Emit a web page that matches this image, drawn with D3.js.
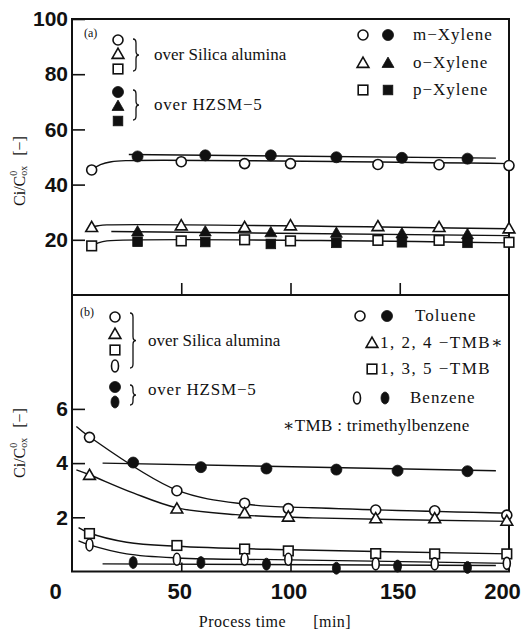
<!DOCTYPE html>
<html>
<head>
<meta charset="utf-8">
<script src="https://cdn.jsdelivr.net/npm/d3@7"></script>
<style>
  body { margin: 0; background: #fff; }
  .serif { font-family: "Liberation Serif", "DejaVu Serif", serif; fill: #111; white-space: pre; }
  .num { font-family: "Liberation Sans", Arial, sans-serif; font-weight: bold; font-size: 21px; fill: #111; }
</style>
</head>
<body>
<div id="chart"></div>
<script>
// (a) xylenes
const timeOpenA = [9, 50, 79, 100, 140, 168, 200];
const timeFilledA = [30, 61, 91, 121, 151, 181];
const mXylSA = [45.3, 48.3, 47.6, 47.6, 47.3, 47.2, 46.9];
const mXylHZ = [50.2, 50.6, 50.6, 49.9, 49.7, 49.4];
const oXylSA = [24.6, 25.2, 24.6, 25.2, 24.9, 24.6, 24.1];
const oXylHZ = [23.0, 23.0, 22.7, 22.5, 22.3, 22.0];
const pXylSA = [17.8, 19.6, 20.0, 19.6, 19.8, 19.8, 19.1];
const pXylHZ = [19.3, 19.2, 18.5, 18.9, 19.1, 18.9];
// hand-drawn fit curves (a)
const mXylSAFit = [[9, 45.3], [13, 47.2], [18, 48.3], [26, 48.7], [200, 47.6]];
const mXylHZFit = [[26, 50.9], [194, 49.6]];
const oXylSAFit = [[9, 24.6], [12, 25.1], [16, 25.4], [200, 24.0]];
const oXylHZFit = [[18, 23.0], [200, 21.5]];
const pXylSAFit = [[9, 17.8], [12, 18.9], [16, 19.6], [200, 18.9]];

// (b) toluene, TMB, benzene
const timeOpenB = [8, 48, 79, 99, 139, 166, 199];
const timeFilledB = [28, 59, 89, 121, 149, 181];
const toluSA = [4.95, 2.98, 2.52, 2.32, 2.27, 2.24, 2.08];
const toluHZ = [4.02, 3.85, 3.8, 3.76, 3.72, 3.70];
const tmb124SA = [3.56, 2.32, 2.15, 2.02, 1.96, 1.96, 1.87];
const tmb135SA = [1.40, 0.96, 0.83, 0.76, 0.66, 0.65, 0.65];
const benzSA = [0.98, 0.45, 0.45, 0.45, 0.28, 0.28, 0.30];
const benzHZ = [0.33, 0.33, 0.27, 0.12, 0.20, 0.15];
const toluSAFit = [[2, 5.35], [8, 4.97], [48, 3.0], [80, 2.48], [110, 2.35], [200, 2.15]];
const toluHZFit = [[14, 4.0], [194, 3.72]];
const tmb124Fit = [[2, 3.75], [8, 3.57], [28, 2.9], [48, 2.35], [75, 2.1], [110, 1.98], [200, 1.85]];
const tmb135Fit = [[3, 1.62], [8, 1.42], [25, 1.08], [48, 0.93], [100, 0.8], [200, 0.65]];
const benzSAFit = [[3, 1.13], [8, 0.98], [25, 0.65], [48, 0.5], [100, 0.43], [200, 0.3]];
const benzHZFit = [[14, 0.28], [194, 0.22]];

const xTicks = [0, 50, 100, 150, 200];
const yTicksA = [20, 40, 60, 80, 100];
const yTicksB = [2, 4, 6];

const width = 522, height = 634;
const left = 72, right = 509, topA = 19, mid = 295, bottom = 571.5;

const svg = d3.select('#chart').append('svg')
  .attr('width', width).attr('height', height);

const x = d3.scaleLinear().domain([0, 200]).range([left, right]);
const yA = d3.scaleLinear().domain([0, 100]).range([mid, topA]);
const yB = d3.scaleLinear().domain([0, (bottom - mid) / 27.1]).range([bottom, mid]);

// frames
svg.append('rect').attr('x', left).attr('y', topA).attr('width', right - left).attr('height', mid - topA)
  .attr('fill', 'none').attr('stroke', '#111').attr('stroke-width', 2);
svg.append('rect').attr('x', left).attr('y', mid).attr('width', right - left).attr('height', bottom - mid)
  .attr('fill', 'none').attr('stroke', '#111').attr('stroke-width', 2);

const clean = g => {
  g.select('.domain').remove();
  g.selectAll('line').attr('stroke', '#111').attr('stroke-width', 1.6);
  g.selectAll('text').attr('class', 'num').attr('fill', null);
};

// y axes
svg.append('g').attr('transform', `translate(${left},0)`)
  .call(d3.axisLeft(yA).tickValues(yTicksA).tickSizeInner(-13).tickSizeOuter(0).tickPadding(4))
  .call(clean);
svg.append('g').attr('transform', `translate(${left},0)`)
  .call(d3.axisLeft(yB).tickValues(yTicksB).tickSizeInner(-13).tickSizeOuter(0).tickPadding(4))
  .call(clean);

// x ticks: top panel bottom edge (up), bottom panel bottom edge (up) + labels
svg.append('g').attr('transform', `translate(0,${mid})`)
  .call(d3.axisBottom(x).tickValues([50, 100, 150]).tickSize(-12).tickFormat(''))
  .call(clean);
svg.append('g').attr('transform', `translate(0,${bottom})`)
  .call(d3.axisBottom(x).tickValues(xTicks).tickSizeInner(-9).tickSizeOuter(0).tickPadding(16))
  .call(clean)
  .call(g => g.selectAll('.tick line').filter(d => d === 0 || d === 200).remove())
  .call(g => g.selectAll('.tick text')
    .style('font-size', '22px')
    .attr('dx', d => d === 0 ? -17 : d === 200 ? -7 : -2)
    .attr('dy', '0.5em'));

// y titles
function yTitle(cx, cy) {
  const t = svg.append('text').attr('class', 'serif')
    .attr('transform', `translate(${cx},${cy}) rotate(-90)`)
    .attr('text-anchor', 'middle').attr('dominant-baseline', 'middle')
    .style('font-size', '16px');
  t.append('tspan').text('Ci/C');
  t.append('tspan').text('0').attr('dy', -6).style('font-size', '10px');
  t.append('tspan').text('ox').attr('dx', -5).attr('dy', 10).style('font-size', '10px');
  t.append('tspan').text('  [−]').attr('dy', -4).attr('dx', 2);
}
yTitle(21, 171);
yTitle(21, 443);

svg.append('text').attr('class', 'serif')
  .attr('x', 275).attr('y', 623).attr('text-anchor', 'middle').attr('dominant-baseline', 'middle')
  .style('font-size', '16px').style('letter-spacing', '0.5px')
  .text('Process time      [min]');

// fit curves
const line = y => d3.line().x(d => x(d[0])).y(d => y(d[1])).curve(d3.curveCatmullRom.alpha(0.5));
const fits = [
  [mXylSAFit, yA], [mXylHZFit, yA], [oXylSAFit, yA], [oXylHZFit, yA], [pXylSAFit, yA],
  [toluSAFit, yB], [toluHZFit, yB], [tmb124Fit, yB], [tmb135Fit, yB], [benzSAFit, yB], [benzHZFit, yB]
];
svg.append('g').selectAll('path').data(fits).enter().append('path')
  .attr('d', d => line(d[1])(d[0]))
  .attr('fill', 'none').attr('stroke', '#111').attr('stroke-width', 1.4);

// markers
function marker(g, shape, filled, cx, cy) {
  const fill = filled ? '#111' : '#fff';
  const sw = filled ? 0.8 : 1.6;
  let el;
  if (shape === 'circle') el = g.append('circle').attr('cx', cx).attr('cy', cy).attr('r', filled ? 5.5 : 5);
  else if (shape === 'oval') el = g.append('ellipse').attr('cx', cx).attr('cy', cy).attr('rx', filled ? 4 : 3.5).attr('ry', 6);
  else if (shape === 'triangle') el = g.append('path').attr('transform', `translate(${cx},${cy + 1})`)
    .attr('d', d3.symbol(d3.symbolTriangle, filled ? 62 : 60)());
  else el = g.append('rect').attr('x', cx - 4.8).attr('y', cy - 4.8).attr('width', 9.6).attr('height', 9.6);
  el.attr('fill', fill).attr('stroke', '#111').attr('stroke-width', sw);
}
function series(times, vals, y, shape, filled) {
  const g = svg.append('g');
  times.forEach((t, i) => marker(g, shape, filled, x(t), y(vals[i])));
}
series(timeOpenA, mXylSA, yA, 'circle', false);
series(timeFilledA, mXylHZ, yA, 'circle', true);
series(timeOpenA, oXylSA, yA, 'triangle', false);
series(timeFilledA, oXylHZ, yA, 'triangle', true);
series(timeOpenA, pXylSA, yA, 'square', false);
series(timeFilledA, pXylHZ, yA, 'square', true);

series(timeOpenB, toluSA, yB, 'circle', false);
series(timeFilledB, toluHZ, yB, 'circle', true);
series(timeOpenB, tmb124SA, yB, 'triangle', false);
series(timeOpenB, tmb135SA, yB, 'square', false);
series(timeOpenB, benzSA, yB, 'oval', false);
series(timeFilledB, benzHZ, yB, 'oval', true);

// legends
const lg = svg.append('g');
function label(tx, ty, str, size, ls) {
  lg.append('text').attr('class', 'serif').attr('x', tx).attr('y', ty)
    .attr('dominant-baseline', 'middle').style('font-size', size + 'px')
    .style('letter-spacing', (ls || 0) + 'px').text(str);
}
function brace(bx, y0, y1, w) {
  const ym = (y0 + y1) / 2, h = w / 2;
  lg.append('path')
    .attr('d', `M${bx},${y0} Q${bx + h},${y0} ${bx + h},${y0 + 4} L${bx + h},${ym - 4} Q${bx + h},${ym} ${bx + w},${ym}` +
      ` Q${bx + h},${ym} ${bx + h},${ym + 4} L${bx + h},${y1 - 4} Q${bx + h},${y1} ${bx},${y1}`)
    .attr('fill', 'none').attr('stroke', '#111').attr('stroke-width', 1.3);
}

// (a)
label(84, 34, '(a)', 12);
marker(lg, 'circle', false, 118, 40);
marker(lg, 'triangle', false, 118, 54);
marker(lg, 'square', false, 118, 69);
brace(133, 39, 71, 6);
label(154, 56, 'over Silica alumina', 17);
marker(lg, 'circle', true, 118, 92);
marker(lg, 'triangle', true, 118, 106);
marker(lg, 'square', true, 118, 121);
brace(133, 90, 120, 6);
label(154, 106, 'over HZSM−5', 17, 0.8);
const namesA = ['m−Xylene', 'o−Xylene', 'p−Xylene'];
const shapesA = ['circle', 'triangle', 'square'];
[35, 63, 90].forEach((ry, i) => {
  marker(lg, shapesA[i], false, 363, ry);
  marker(lg, shapesA[i], true, 388, ry);
  label(413, ry + 1, namesA[i], 17, 1);
});

// (b)
label(80, 313, '(b)', 12);
marker(lg, 'circle', false, 115, 317);
marker(lg, 'triangle', false, 115, 334);
marker(lg, 'square', false, 115, 350);
marker(lg, 'oval', false, 115, 366);
brace(130, 313, 368, 6);
label(148, 342, 'over Silica alumina', 17);
marker(lg, 'circle', true, 115, 387);
marker(lg, 'oval', true, 115, 402);
brace(130, 385, 405, 6);
label(148, 391, 'over HZSM−5', 17, 0.8);
marker(lg, 'circle', false, 360, 316);
marker(lg, 'circle', true, 387, 316);
label(415, 317, 'Toluene', 17, 1);
marker(lg, 'triangle', false, 372, 343);
label(380, 344, '1, 2, 4 −TMB∗', 17, 1.5);
marker(lg, 'square', false, 372, 369);
label(380, 370, '1, 3, 5 −TMB', 17, 1.5);
marker(lg, 'oval', false, 357, 398);
marker(lg, 'oval', true, 385, 398);
label(410, 399, 'Benzene', 17, 1);
label(283, 427, '∗TMB : trimethylbenzene', 17, 0.3);
</script>
</body>
</html>
